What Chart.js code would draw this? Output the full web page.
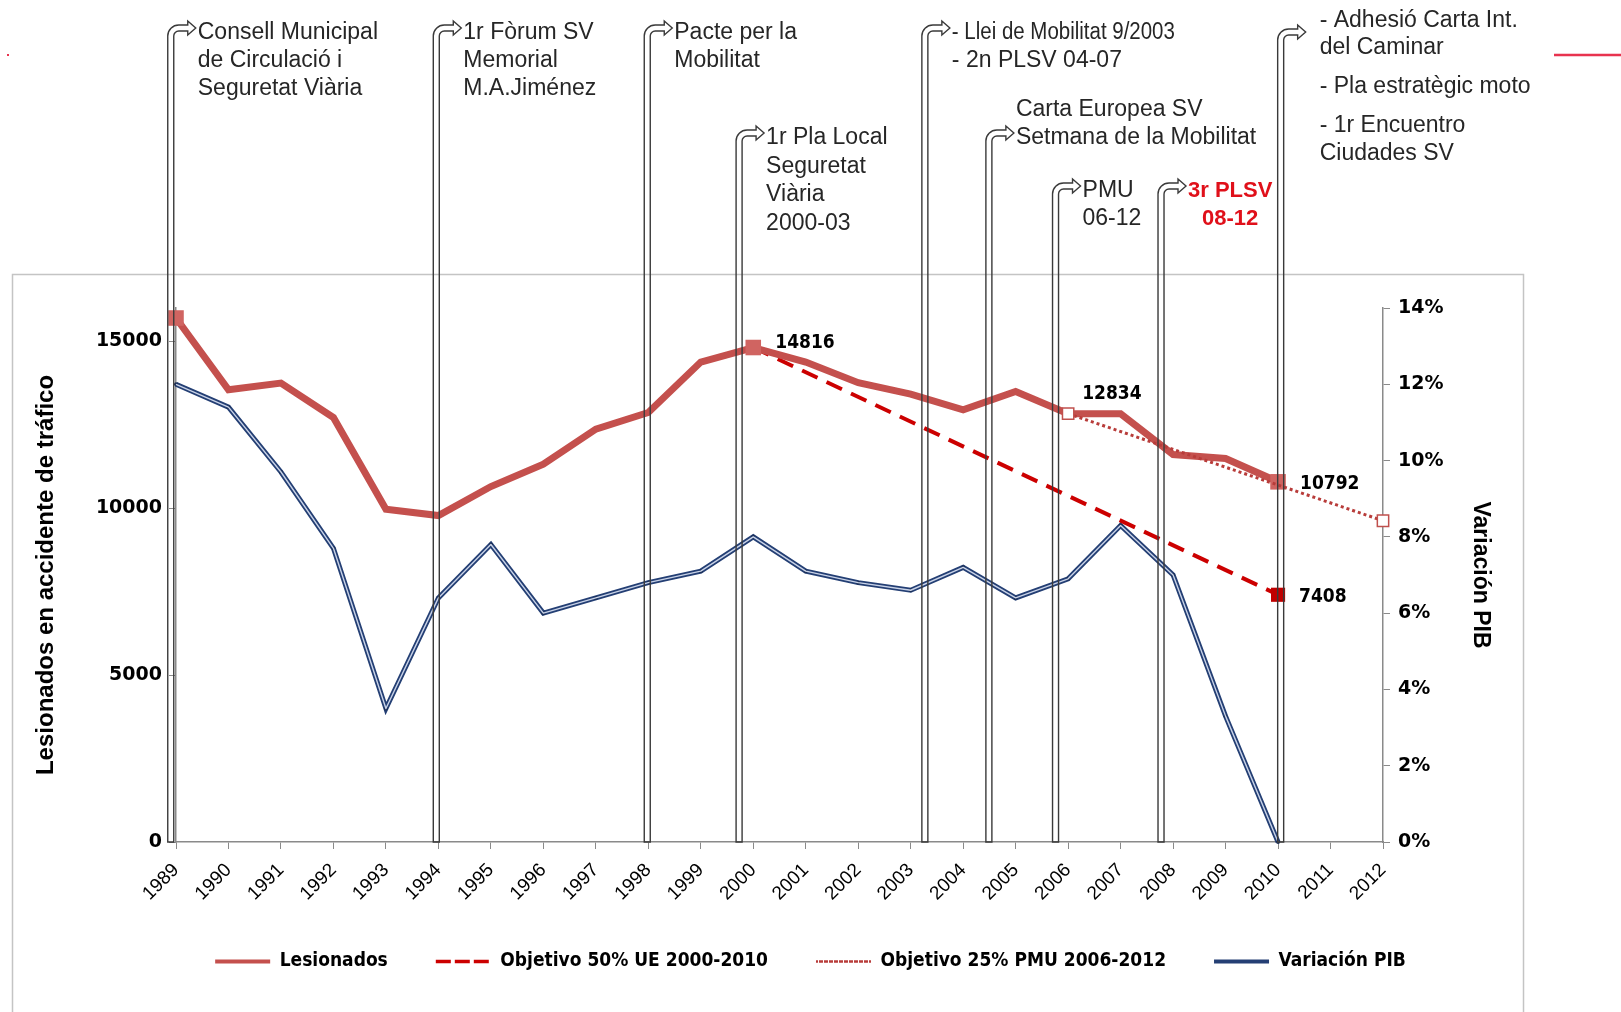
<!DOCTYPE html>
<html>
<head>
  <meta charset="utf-8">
  <title>Lesionados en accidente de tráfico</title>
  <style>
    body { margin: 0; background: #fff; }
    #canvas { display: block; }
  </style>
</head>
<body>
  <canvas id="canvas" width="1621" height="1012"></canvas>
  <script src="https://cdn.jsdelivr.net/npm/chart.js"></script>
  <script>
    const canvas = document.getElementById('canvas');
    const ctx = canvas.getContext('2d');

    // Datos
    const years = ['1989', '1990', '1991', '1992', '1993', '1994', '1995', '1996', '1997', '1998', '1999', '2000',
                   '2001', '2002', '2003', '2004', '2005', '2006', '2007', '2008', '2009', '2010', '2011', '2012'];
    const lesionados = [15700, 13550, 13750, 12720, 9970, 9780, 10650, 11320, 12370, 12870, 14380, 14816,
                        14380, 13760, 13420, 12950, 13500, 12834, 12830, 11610, 11490, 10792, null, null];
    const objetivoUE = [null, null, null, null, null, null, null, null, null, null, null, 14816,
                        null, null, null, null, null, null, null, null, null, 7408, null, null];
    const objetivoPMU = [null, null, null, null, null, null, null, null, null, null, null, null,
                         null, null, null, null, null, 12834, null, null, null, null, null, 9626];
    const variacionPIB = [12.0, 11.4, 9.7, 7.7, 3.5, 6.4, 7.8, 6.0, 6.4, 6.8, 7.1, 8.0,
                          7.1, 6.8, 6.6, 7.2, 6.4, 6.9, 8.3, 7.0, 3.3, 0.0, null, null];
    const leftTicks = [0, 5000, 10000, 15000];
    const seriesNames = ['Lesionados', 'Objetivo 50% UE 2000-2010', 'Objetivo 25% PMU 2006-2012', 'Variación PIB'];

    // Hitos (posición en el eje de categorías, textos)
    const hitos = [
      { pos: -0.1, flechaY: 28, textoX: 30, lineas: [['Consell Municipal', 33], ['de Circulació i', 61], ['Seguretat Viària', 89]] },
      { pos: 4.96, flechaY: 28, textoX: 30, lineas: [['1r Fòrum SV', 33], ['Memorial', 61], ['M.A.Jiménez', 89]] },
      { pos: 8.98, flechaY: 28, textoX: 30, lineas: [['Pacte per la', 33], ['Mobilitat', 61]] },
      { pos: 10.73, flechaY: 133, textoX: 30, lineas: [['1r Pla Local', 138], ['Seguretat', 167], ['Viària', 195], ['2000-03', 224]] },
      { pos: 14.27, flechaY: 28, textoX: 30, lineas: [['- Llei de Mobilitat 9/2003', 33, 223], ['- 2n PLSV 04-07', 61]] },
      { pos: 15.49, flechaY: 133, textoX: 30, lineas: [['Carta Europea SV', 110], ['Setmana de la Mobilitat', 138]] },
      { pos: 16.76, flechaY: 186, textoX: 30, lineas: [['PMU', 191], ['06-12', 219]] },
      { pos: 18.77, flechaY: 186, textoX: 30, rojo: true, lineas: [['3r PLSV', 191], ['08-12', 219]] },
      { pos: 21.05, flechaY: 32, textoX: 42, lineas: [['- Adhesió Carta Int.', 21], ['del Caminar', 48], ['- Pla estratègic moto', 87], ['- 1r Encuentro', 126], ['Ciudades SV', 154]] }
    ];

    // Etiquetas de valores (dataset, índice, desplazamiento)
    const etiquetas = [
      { ds: 0, i: 11, dx: 22, dy: -4 },
      { ds: 0, i: 17, dx: 14, dy: -20 },
      { ds: 0, i: 21, dx: 22, dy: 2 },
      { ds: 1, i: 21, dx: 21, dy: 2 }
    ];

    const legendLineWidths = [4, 3.5, 2.5, 4];
    const legendDashes = [[], [12, 7], [2, 3], []];
    const fuenteTexto = '"Liberation Sans", Arial, sans-serif';
    const fuenteNum = '"DejaVu Sans", sans-serif';
    const fuenteCond = '"DejaVu Sans Condensed", "DejaVu Sans", sans-serif';

    function dibujarHito(c, xc, flechaY, bottom) {
      const w = 6;
      const xL = xc - w / 2, xR = xc + w / 2;
      const yO = flechaY - w / 2, yI = flechaY + w / 2;
      const r = 11, ri = r - w;
      const base = xL + 20, tip = xL + 28;
      c.beginPath();
      c.moveTo(xL, bottom);
      c.lineTo(xL, yO + r);
      c.arcTo(xL, yO, xL + r, yO, r);
      c.lineTo(base, yO);
      c.lineTo(base, yO - 4);
      c.lineTo(tip, flechaY);
      c.lineTo(base, yI + 4);
      c.lineTo(base, yI);
      c.lineTo(xR + ri, yI);
      c.arcTo(xR, yI, xR, yI + ri, ri);
      c.lineTo(xR, bottom);
      c.closePath();
      c.stroke();
    }

    const decoracion = {
      id: 'decoracion',
      beforeDraw(chart) {
        const c = chart.ctx;
        c.save();
        c.fillStyle = '#fff';
        c.fillRect(0, 0, chart.width, chart.height);
        c.strokeStyle = '#c4c4c4';
        c.lineWidth = 1.5;
        c.strokeRect(12.5, 274.5, 1511, 800);
        c.strokeStyle = '#e8334f';
        c.lineWidth = 2.5;
        c.beginPath();
        c.moveTo(1554, 55);
        c.lineTo(1621, 55);
        c.stroke();
        c.fillStyle = '#e8334f';
        c.fillRect(7, 54, 2, 2);
        c.restore();
      },
      afterDatasetsDraw(chart) {
        const c = chart.ctx;
        // franja clara de la línea doble del PIB
        const pts = chart.getDatasetMeta(3).data.filter((p, i) => variacionPIB[i] !== null);
        c.save();
        c.strokeStyle = '#c9d3e8';
        c.lineWidth = 1.4;
        c.lineJoin = 'round';
        c.beginPath();
        pts.forEach((p, i) => { if (i === 0) c.moveTo(p.x, p.y); else c.lineTo(p.x, p.y); });
        c.stroke();
        // etiquetas de valores
        c.fillStyle = '#000';
        c.font = 'bold 19px ' + fuenteCond;
        c.textAlign = 'left';
        c.textBaseline = 'middle';
        etiquetas.forEach(e => {
          const p = chart.getDatasetMeta(e.ds).data[e.i];
          const v = chart.data.datasets[e.ds].data[e.i];
          c.fillText(String(v), p.x + e.dx, p.y + e.dy);
        });
        c.restore();
      },
      afterDraw(chart) {
        const c = chart.ctx;
        const x = chart.scales.x;
        const bottom = chart.chartArea.bottom;
        c.save();
        c.strokeStyle = '#3a3a3a';
        c.lineWidth = 1.4;
        c.textBaseline = 'middle';
        hitos.forEach(h => {
          const xc = x.getPixelForValue(h.pos);
          dibujarHito(c, xc, h.flechaY, bottom);
          const xl = xc - 3 + h.textoX;
          if (h.rojo) {
            c.fillStyle = '#e0101a';
            c.font = 'bold 22px ' + fuenteTexto;
            c.textAlign = 'center';
            const cx = xl + c.measureText(h.lineas[0][0]).width / 2;
            h.lineas.forEach(l => c.fillText(l[0], cx, l[1]));
          } else {
            c.fillStyle = '#262626';
            c.font = '23px ' + fuenteTexto;
            c.textAlign = 'left';
            h.lineas.forEach(l => {
              if (l[2]) c.fillText(l[0], xl, l[1], l[2]);
              else c.fillText(l[0], xl, l[1]);
            });
          }
        });
        c.restore();
      }
    };

    const chart = new Chart(ctx, {
      type: 'line',
      data: {
        labels: years,
        datasets: [
          {
            label: seriesNames[0],
            data: lesionados,
            yAxisID: 'y',
            borderColor: '#c4504d',
            borderWidth: 7,
            pointStyle: 'rect',
            pointRadius: (c) => [0, 11, 21].includes(c.dataIndex) ? 11 : 0,
            pointBackgroundColor: '#d06461',
            pointBorderWidth: 0,
            order: 2,
            clip: false
          },
          {
            label: seriesNames[1],
            data: objetivoUE,
            yAxisID: 'y',
            spanGaps: true,
            borderColor: '#cc0000',
            borderWidth: 4,
            borderDash: [17, 10],
            pointStyle: 'rect',
            pointRadius: 10,
            pointBackgroundColor: '#c00000',
            pointBorderWidth: 0,
            order: 3,
            clip: false
          },
          {
            label: seriesNames[2],
            data: objetivoPMU,
            yAxisID: 'y',
            spanGaps: true,
            borderColor: '#b83c3a',
            borderWidth: 3,
            borderDash: [3, 3],
            pointStyle: 'rect',
            pointRadius: 8,
            pointBackgroundColor: '#fff',
            pointBorderColor: '#c0504d',
            pointBorderWidth: 1.5,
            order: 1,
            clip: false
          },
          {
            label: seriesNames[3],
            data: variacionPIB,
            yAxisID: 'y1',
            borderColor: '#243f74',
            borderWidth: 5,
            pointRadius: 2,
            pointBackgroundColor: '#1b2f57',
            pointBorderWidth: 0,
            order: 4,
            clip: false
          }
        ]
      },
      options: {
        responsive: false,
        animation: false,
        layout: { padding: { top: 308, left: 0, right: 0, bottom: 31 } },
        plugins: {
          tooltip: { enabled: false },
          legend: {
            position: 'bottom',
            labels: {
              boxWidth: 55,
              boxHeight: 0,
              padding: 48,
              color: '#000',
              font: { family: fuenteCond, size: 19, weight: 'bold' },
              sort: (a, b) => a.datasetIndex - b.datasetIndex,
              generateLabels: (ch) => {
                const items = Chart.defaults.plugins.legend.labels.generateLabels(ch);
                items.forEach(it => {
                  it.lineWidth = legendLineWidths[it.datasetIndex];
                  it.lineDash = legendDashes[it.datasetIndex];
                  it.fillStyle = 'rgba(0,0,0,0)';
                });
                return items;
              }
            }
          }
        },
        scales: {
          x: {
            offset: false,
            grid: { drawOnChartArea: false, tickLength: 7, color: '#8a8a8a' },
            border: { color: '#8a8a8a', width: 1.5 },
            ticks: {
              autoSkip: false,
              maxRotation: 45,
              minRotation: 45,
              padding: 10,
              color: '#000',
              font: { family: fuenteTexto, size: 19 }
            },
            afterFit: (s) => { s.height = 62; }
          },
          y: {
            position: 'left',
            min: 0,
            max: 16000,
            afterBuildTicks: (s) => { s.ticks = leftTicks.map(v => ({ value: v })); },
            grid: { drawOnChartArea: false, tickLength: 7, color: '#8a8a8a' },
            border: { color: '#8a8a8a', width: 1.5 },
            ticks: { padding: 7, color: '#000', font: { family: fuenteNum, size: 19, weight: 'bold' }, callback: (v) => String(v) },
            title: {
              display: true,
              text: 'Lesionados en accidente de tráfico',
              color: '#000',
              font: { family: fuenteTexto, size: 24, weight: 'bold' },
              padding: { top: 32, bottom: 0 }
            },
            afterFit: (s) => { s.width = 176; }
          },
          y1: {
            position: 'right',
            min: 0,
            max: 14,
            grid: { drawOnChartArea: false, tickLength: 7, color: '#8a8a8a' },
            border: { color: '#8a8a8a', width: 1.5 },
            ticks: {
              stepSize: 2,
              padding: 8,
              color: '#000',
              font: { family: fuenteNum, size: 19, weight: 'bold' },
              callback: (v) => v + '%'
            },
            title: {
              display: true,
              text: 'Variación PIB',
              color: '#000',
              font: { family: fuenteTexto, size: 23, weight: 'bold' },
              padding: { top: 127, bottom: 0 }
            },
            afterFit: (s) => { s.width = 238; }
          }
        }
      },
      plugins: [decoracion]
    });
  </script>
</body>
</html>
